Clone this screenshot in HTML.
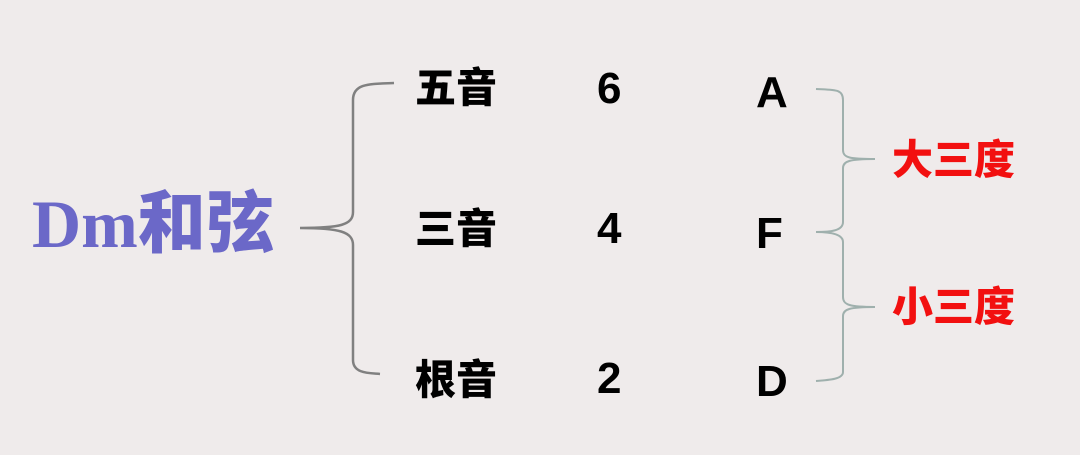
<!DOCTYPE html>
<html><head><meta charset="utf-8"><style>
html,body{margin:0;padding:0;background:#efebeb;}
body{width:1080px;height:455px;position:relative;overflow:hidden;font-family:"Liberation Sans","Noto Sans CJK SC",sans-serif;font-weight:bold;}
.t{position:absolute;line-height:1;white-space:nowrap;}
.cn{font-size:41px;color:#000;font-family:"Noto Sans CJK SC","WenQuanYi Zen Hei",sans-serif;font-weight:900;}
.num{font-size:44px;color:#000;}
.red{font-size:41px;color:#f21010;font-family:"Noto Sans CJK SC",sans-serif;font-weight:900;}
</style></head><body>
<svg width="1080" height="455" style="position:absolute;left:0;top:0">
<path d="M394,83 C370,84 353,83 353,100 L353,212 C353,225 340,228 300,228 C340,228 353,232 353,245 L353,360 C353,374 370,373 380,374" fill="none" stroke="#808080" stroke-width="2.5"/>
<path d="M816,89 C835,90 843,89 843,100 L843,150 C843,158 850,159 875,159 C850,159 843,161 843,168 L843,222 C843,231 830,232 816,232 C830,232 843,234 843,242 L843,297 C843,305 850,307 875,307 C850,307 843,309 843,316 L843,372 C843,379 830,380 816,381" fill="none" stroke="#9fb0ad" stroke-width="2"/>
</svg>
<div class="t" style="left:32px;top:184px;font-size:68px;color:#6b68c8;font-family:'Liberation Serif','Noto Sans CJK SC',serif;">Dm<span style="font-family:'Noto Sans CJK SC',sans-serif;font-weight:900;">和弦</span></div>
<div class="t cn" style="left:415px;top:64px;">五音</div>
<div class="t cn" style="left:415px;top:205px;">三音</div>
<div class="t cn" style="left:415px;top:356px;">根音</div>
<div class="t num" style="left:597px;top:67px;">6</div>
<div class="t num" style="left:597px;top:207px;">4</div>
<div class="t num" style="left:597px;top:357px;">2</div>
<div class="t num" style="left:756px;top:71px;">A</div>
<div class="t num" style="left:756px;top:212px;">F</div>
<div class="t num" style="left:756px;top:360px;">D</div>
<div class="t red" style="left:892px;top:136px;">大三度</div>
<div class="t red" style="left:892px;top:283px;">小三度</div>
</body></html>
